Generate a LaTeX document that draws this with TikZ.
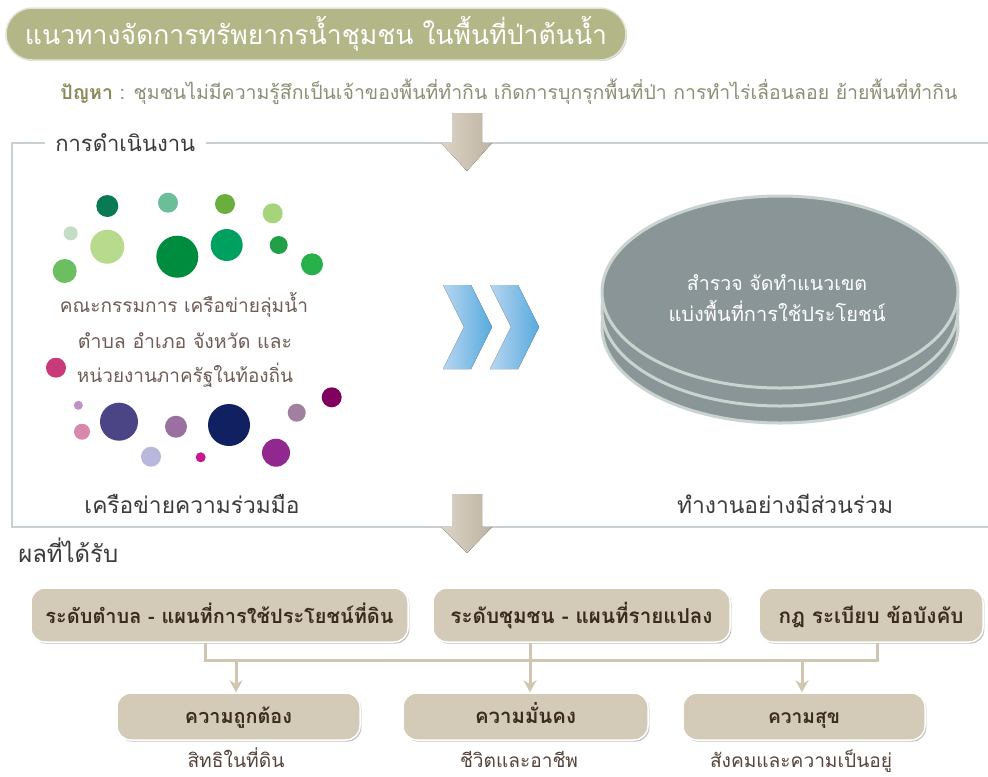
\documentclass[tikz,border=0pt]{standalone}
\usepackage{fontspec}
\usepackage{graphicx}
\setmainfont{Loma}[Script=Thai]
\usetikzlibrary{shadows,arrows.meta}
\newlength\px
\setlength\px{0.75pt}
\newcommand{\fitw}[2]{\resizebox{#1\px}{!}{#2}}
\newcommand{\dotc}[3]{\definecolor{tmpdot}{HTML}{#1}\fill[tmpdot] (#2) circle[radius=#3\px];}
\definecolor{titlecol}{HTML}{B3B687}
\definecolor{titleedge}{HTML}{E4E5D6}
\definecolor{probcol}{HTML}{8C8A5C}
\definecolor{probtext}{HTML}{8E8E76}
\definecolor{framecol}{HTML}{C9D1D0}
\definecolor{darktxt}{HTML}{3B3B3B}
\definecolor{circtxt}{HTML}{6E5C55}
\definecolor{boxfill}{HTML}{D3CAB7}
\definecolor{boxtxt}{HTML}{3A2B1E}
\definecolor{subtxt}{HTML}{55463C}
\definecolor{linecol}{HTML}{CFC6B2}
\definecolor{arrL}{HTML}{DCD4C6}
\definecolor{arrR}{HTML}{BDB3A1}
\definecolor{chevL}{HTML}{B7D6F0}
\definecolor{chevR}{HTML}{58AADF}
\definecolor{discfill}{HTML}{8A9598}
\definecolor{discedge}{HTML}{C9D4D0}
\tikzset{
  titlebox/.style={rounded corners=26\px, fill=titlecol, draw=titleedge, line width=1.5\px,
    minimum width=620\px, minimum height=52\px, inner sep=0, text=white,
    drop shadow={shadow xshift=0.8pt, shadow yshift=-0.8pt, fill=black!40, opacity=0.5}},
  lbl/.style={inner sep=0},
  resbox/.style={rounded corners=14\px, fill=boxfill, draw=white, line width=1.5\px,
    minimum height=54\px, inner sep=0, text=boxtxt, text height=14pt, text depth=1.6pt,
    drop shadow={shadow xshift=1pt, shadow yshift=-1.2pt, fill=black!45, opacity=0.55}},
  lowbox/.style={resbox, minimum height=47\px, text height=12pt, text depth=2.25pt},
  conn/.style={draw=linecol, line width=3\px},
  connarrow/.style={conn, -{Stealth[length=9pt,width=9.75pt]}},
  framel/.style={draw=framecol, line width=2.5\px},
  bigarrow/.style={left color=arrL, right color=arrR},
  chev/.style={left color=chevL, right color=chevR},
  disc/.style={fill=discfill, draw=discedge, line width=3\px}
}
\begin{document}
\begin{tikzpicture}[x=0.75pt,y=-0.75pt]
\useasboundingbox (0,0) rectangle (988,776);
\fill[white] (0,0) rectangle (988,776);

% title and problem
\node[titlebox] (title) at (316,34) {\fitw{582}{แนวทางจัดการทรัพยากรน้ำชุมชน ในพื้นที่ป่าต้นน้ำ}};
\node[lbl, anchor=west, text=probtext] (prob) at (60,92) {\fitw{897}{\textcolor{probcol}{\textbf{ปัญหา}} : ชุมชนไม่มีความรู้สึกเป็นเจ้าของพื้นที่ทำกิน เกิดการบุกรุกพื้นที่ป่า การทำไร่เลื่อนลอย ย้ายพื้นที่ทำกิน}};

% frame
\node[lbl, anchor=west, text=darktxt, inner xsep=10\px] (hdr) at (45,143) {\fitw{140}{การดำเนินงาน}};
\draw[framel] (hdr.west) -- (12,143) -- (12,527) -- (988,527);
\draw[framel] (hdr.east) -- (988,143);

% big arrows
\fill[bigarrow] (452,113) -- (482,113) -- (482,143) -- (492,143) -- (467,171) -- (441,143) -- (452,143) -- cycle;
\fill[bigarrow] (452,494) -- (482,494) -- (482,527) -- (492,527) -- (467,553) -- (441,527) -- (452,527) -- cycle;

% dots
\dotc{0A7A55}{107.3,206}{11}
\dotc{6BBF98}{168,202.7}{10}
\dotc{6AAE3E}{225,204}{10}
\dotc{A5D47A}{272.7,213.3}{10}
\dotc{C5DCC5}{70.7,233.3}{7}
\dotc{B8DA8C}{107.3,246.7}{17}
\dotc{008C3E}{177.3,256.7}{21}
\dotc{00A060}{226.7,245}{16}
\dotc{22A048}{278.7,245}{9}
\dotc{6CBF60}{64.7,271}{12}
\dotc{28B04A}{312,264.3}{11}
\dotc{C8397A}{56,367.7}{10}
\dotc{800060}{331.7,397.3}{10}
\dotc{C090C8}{78.3,405.3}{4.5}
\dotc{4B4585}{119,421.7}{19}
\dotc{9A70A0}{176,426.7}{11}
\dotc{102060}{229,425}{21}
\dotc{A07FA0}{296.7,412.7}{9}
\dotc{D888AA}{82,431.7}{8}
\dotc{B8B8DC}{151,456.7}{10}
\dotc{C81890}{200.7,457.3}{5}
\dotc{902890}{276,452.7}{14}

% dot text
\node[lbl, anchor=base, text=circtxt] (ct1) at (184,312) {\fitw{248}{คณะกรรมการ เครือข่ายลุ่มน้ำ}};
\node[lbl, anchor=base, text=circtxt] (ct2) at (185,348) {\fitw{214}{ตำบล อำเภอ จังหวัด และ}};
\node[lbl, anchor=base, text=circtxt] (ct3) at (185,382) {\fitw{216}{หน่วยงานภาครัฐในท้องถิ่น}};

% chevrons
\fill[chev] (443,285) -- (471,285) -- (492,327) -- (471,369) -- (443,369) -- (464,327) -- cycle;
\fill[chev] (490,285) -- (518,285) -- (539,327) -- (518,369) -- (490,369) -- (511,327) -- cycle;

% disc
\draw[disc] (780,327) ellipse[x radius=178\px, y radius=96\px];
\draw[disc] (780,310) ellipse[x radius=178\px, y radius=96\px];
\draw[disc] (780,292) ellipse[x radius=178\px, y radius=96\px];
\node[lbl, anchor=base, text=white] (dt1) at (777,290) {\fitw{180}{สำรวจ จัดทำแนวเขต}};
\node[lbl, anchor=base, text=white] (dt2) at (777,321) {\fitw{217}{แบ่งพื้นที่การใช้ประโยชน์}};

% section labels
\node[lbl, anchor=base, text=darktxt] (net) at (192,513) {\fitw{215}{เครือข่ายความร่วมมือ}};
\node[lbl, anchor=base, text=darktxt] (part) at (785,513) {\fitw{216}{ทำงานอย่างมีส่วนร่วม}};
\node[lbl, anchor=base west, text=darktxt] (res) at (18,562) {\fitw{100}{ผลที่ได้รับ}};

% result boxes
\node[resbox, minimum width=377\px] (b1) at (219.5,615) {\fitw{348}{\textbf{ระดับตำบล - แผนที่การใช้ประโยชน์ที่ดิน}}};
\node[resbox, minimum width=297\px] (b2) at (581.5,615) {\fitw{262}{\textbf{ระดับชุมชน - แผนที่รายแปลง}}};
\node[resbox, minimum width=224\px] (b3) at (871,615) {\fitw{185}{\textbf{กฎ ระเบียบ ข้อบังคับ}}};

\node[lowbox, minimum width=243\px] (d1) at (238.5,716.5) {\fitw{107}{\textbf{ความถูกต้อง}}};
\node[lowbox, minimum width=245\px] (d2) at (525.5,716.5) {\fitw{101}{\textbf{ความมั่นคง}}};
\node[lowbox, minimum width=242\px] (d3) at (804,716.5) {\fitw{72}{\textbf{ความสุข}}};

\node[lbl, anchor=base, text=subtxt] (s1) at (236,767) {\fitw{97}{สิทธิในที่ดิน}};
\node[lbl, anchor=base, text=subtxt] (s2) at (519,767) {\fitw{118}{ชีวิตและอาชีพ}};
\node[lbl, anchor=base, text=subtxt] (s3) at (801,767) {\fitw{182}{สังคมและความเป็นอยู่}};

% connectors
\coordinate (j1) at (205,660);
\coordinate (j3) at (877,660);
\coordinate (m) at (530,660);
\coordinate (a1) at (236,660);
\coordinate (a3) at (802,660);
\draw[conn] (b1.south -| j1) -- (j1) -- (j3) -- (b3.south -| j3);
\draw[connarrow] (b2.south -| m) -- (d2.north -| m);
\draw[connarrow] (a1) -- (d1.north -| a1);
\draw[connarrow] (a3) -- (d3.north -| a3);
\end{tikzpicture}
\end{document}
